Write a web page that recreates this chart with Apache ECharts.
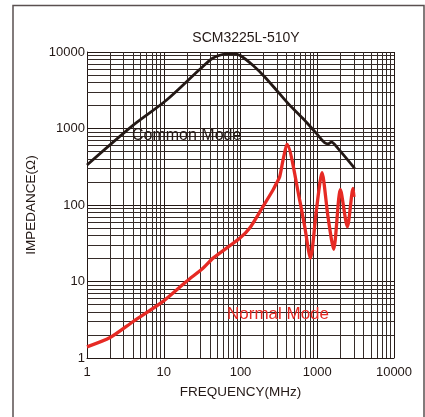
<!DOCTYPE html>
<html>
<head>
<meta charset="utf-8">
<script src="https://cdn.jsdelivr.net/npm/echarts@6/dist/echarts.min.js"></script>
<style>
  html, body { margin: 0; padding: 0; background: #fff; }
  #chart { width: 425px; height: 417px; }
</style>
</head>
<body>
<div id="chart"></div>
<script>
// curves (MHz / ohm)
var cmFreq = [1, 4, 10.8, 29.3, 43.8, 62, 75, 88, 102, 145, 207, 308, 437, 652, 975, 1250, 1384, 1530, 1860, 3075];
var cmOhm  = [333, 1107, 2340, 5900, 8350, 9420, 9550, 9400, 8870, 6700, 4720, 3010, 2020, 1352, 862, 650, 630, 664, 550, 301];

var nmFreq = [1, 2, 4, 9.8, 19.7, 32.4, 43.9, 97.7, 132, 196, 265, 294, 324, 358, 403, 590, 687, 815, 975, 1153, 1380, 1637, 2000, 2470, 2925, 3010];
var nmOhm  = [1.40, 1.85, 3.0, 5.5, 10, 14.9, 20.2, 36.8, 50, 95, 157, 192, 234, 386, 625, 116, 52, 20.2, 86, 264, 70, 26.4, 160, 52, 165, 128];

// log grid: the 2..9 lines inside each decade
var minorTicks = [2, 3, 4, 5, 6, 7, 8, 9,
                  20, 30, 40, 50, 60, 70, 80, 90,
                  200, 300, 400, 500, 600, 700, 800, 900,
                  2000, 3000, 4000, 5000, 6000, 7000, 8000, 9000];

var ink = '#231815';
var red = '#e62a24';
var font = '"Liberation Sans", Arial, sans-serif';

function pairs(xs, ys) {
  var out = [];
  for (var i = 0; i < xs.length; i++) out.push([xs[i], ys[i]]);
  return out;
}

var gridMarks = [];
minorTicks.forEach(function (t) { gridMarks.push({ xAxis: t }); });
minorTicks.forEach(function (t) { gridMarks.push({ yAxis: t }); });

var chart = echarts.init(document.getElementById('chart'));
chart.setOption({
  animation: false,
  backgroundColor: '#fff',
  textStyle: { fontFamily: font },
  title: {
    text: 'SCM3225L-510Y',
    left: 241,
    top: 26,
    textAlign: 'center',
    textStyle: { fontSize: 14, fontWeight: 'normal', color: ink, fontFamily: font }
  },
  grid: { left: 87, right: 31, top: 52, bottom: 59, containLabel: false, outerBoundsMode: 'none' },
  xAxis: {
    type: 'log',
    logBase: 10,
    min: 1,
    max: 10000,
    name: 'FREQUENCY(MHz)',
    nameLocation: 'middle',
    nameGap: 27,
    nameTextStyle: { fontSize: 13.5, color: ink, fontFamily: font },
    axisLine: { show: true, lineStyle: { color: ink, width: 1 } },
    axisTick: { show: false },
    axisLabel: {
      color: ink, fontSize: 13, margin: 8,
      formatter: function (v) { return String(Math.round(v)); }
    },
    splitLine: { show: true, lineStyle: { color: ink, width: 1 } }
  },
  yAxis: {
    type: 'log',
    logBase: 10,
    min: 1,
    max: 10000,
    name: 'IMPEDANCE(Ω)',
    nameLocation: 'middle',
    nameGap: 46,
    nameTextStyle: { fontSize: 13.5, color: ink, fontFamily: font },
    axisLine: { show: true, lineStyle: { color: ink, width: 1 } },
    axisTick: { show: false },
    axisLabel: {
      color: ink, fontSize: 13, margin: 2,
      formatter: function (v) { return String(Math.round(v)); }
    },
    splitLine: { show: true, lineStyle: { color: ink, width: 1 } }
  },
  series: [
    {
      // carries the minor log grid only
      type: 'line',
      data: [],
      silent: true,
      z: 1,
      markLine: {
        silent: true,
        z: 1,
        symbol: 'none',
        label: { show: false },
        lineStyle: { color: '#352b28', width: 1, type: 'solid' },
        emphasis: { disabled: true },
        data: gridMarks
      }
    },
    {
      name: 'Common Mode',
      type: 'line',
      z: 3,
      data: pairs(cmFreq, cmOhm),
      showSymbol: false,
      smooth: 0.3,
      lineStyle: { color: ink, width: 2.8 }
    },
    {
      name: 'Normal Mode',
      type: 'line',
      z: 4,
      data: pairs(nmFreq, nmOhm),
      showSymbol: false,
      smooth: 0.25,
      lineStyle: { color: red, width: 3.3 }
    }
  ],
  graphic: [
    {
      type: 'rect',
      z: 0,
      silent: true,
      shape: { x: 13, y: 5.5, width: 411, height: 430 },
      style: { fill: 'none', stroke: '#5a5050', lineWidth: 1.5 }
    },
    {
      type: 'text',
      z: 10,
      style: { x: 132, y: 136, text: 'Common Mode', fill: ink, font: '16px ' + font, textVerticalAlign: 'middle' }
    },
    {
      type: 'text',
      z: 10,
      style: { x: 227, y: 314, text: 'Normal Mode', fill: red, font: '17px ' + font, textVerticalAlign: 'middle' }
    }
  ]
});
</script>
</body>
</html>
